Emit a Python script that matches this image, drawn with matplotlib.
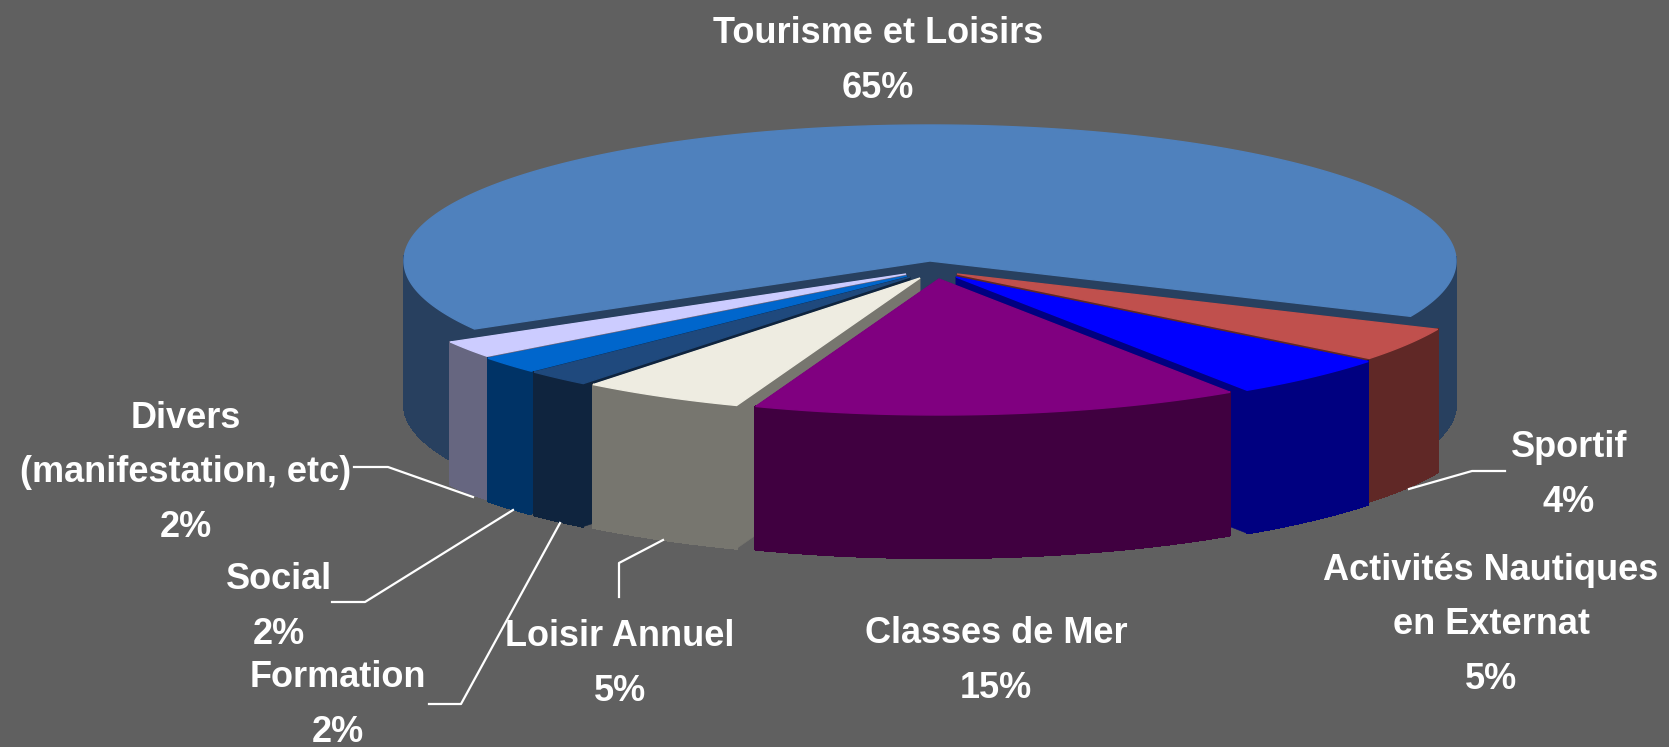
import numpy as np
import matplotlib
matplotlib.use("Agg")
import matplotlib.pyplot as plt
from matplotlib.patches import Polygon
from matplotlib.collections import PolyCollection

# Data, clockwise from the right edge of the big slice
labels = ["Tourisme et Loisirs", "Sportif", "Activités Nautiques\nen Externat", "Classes de Mer",
          "Loisir Annuel", "Formation", "Social", "Divers\n(manifestation, etc)"]
shares = [65, 4, 5, 15, 5, 2, 2, 2]
top_colors = ["#4f81bd", "#c0504d", "#0000ff", "#800080", "#eeece1", "#1f497d", "#0066cc", "#ccccff"]
side_colors = ["#28405f", "#602826", "#000080", "#400040", "#77766f", "#0f243e", "#003366", "#666680"]

# Layout of the pie, in pixels
bg = "#606060"
rx = 526
ry = 136
depth = 143
start_angle = -24
# where the apex of each slice ended up after exploding
apex_x = [930, 957, 956, 939, 920, 910, 907, 906]
apex_y = [261, 274, 277, 279, 278, 277, 276, 274]
draw_order = [0, 7, 6, 5, 1, 2, 4, 3]

# Label layout: centre x, centre y
label_x = [878, 1569, 1491, 996, 620, 338, 279, 186]
label_y = [61, 475, 625, 661, 664, 705, 607, 473]
leaders = [
    [(354, 467), (388, 467), (473, 497)],
    [(332, 602), (365, 602), (513, 510)],
    [(429, 704), (461, 704), (560, 523)],
    [(619, 597), (619, 563), (663, 540)],
    [(1505, 471), (1472, 471), (1409, 489)],
]


def draw_slice(ax, cx, cy, a_from, a_to, top, side, z):
    # a_from > a_to when going clockwise, angles in degrees
    t = np.radians(np.linspace(a_from, a_to, 240))
    xs = cx + rx * np.cos(t)
    ys = cy - ry * np.sin(t)
    # the two cut faces
    for x, y in ((xs[0], ys[0]), (xs[-1], ys[-1])):
        ax.add_patch(Polygon([(cx, cy), (x, y), (x, y + depth), (cx, cy + depth)],
                             fc=side, ec=side, lw=0.4, zorder=z))
    # the outer rim, one small quad per step, only the part facing the viewer
    quads = [[(xs[j], ys[j]), (xs[j + 1], ys[j + 1]), (xs[j + 1], ys[j + 1] + depth), (xs[j], ys[j] + depth)]
             for j in range(len(xs) - 1) if np.sin(t[j]) < 0.03]
    ax.add_collection(PolyCollection(quads, facecolors=side, edgecolors=side, linewidths=1,
                                     antialiaseds=False, zorder=z + 0.1))
    # the top
    face = np.concatenate([[(cx, cy)], np.c_[xs, ys]])
    ax.add_patch(Polygon(face, fc=top, ec=top, lw=1, zorder=z + 0.2))


fig = plt.figure(figsize=(16.69, 7.47), dpi=100, facecolor=bg)
ax = fig.add_axes([0, 0, 1, 1])
ax.set_xlim(0, 1669)
ax.set_ylim(747, 0)
ax.axis("off")

# slice angles come from the shares
edges = start_angle - np.cumsum([0] + shares[1:]) * 3.6
spans = [(edges[0] + shares[0] * 3.6, edges[0])]
for i in range(1, len(shares)):
    spans.append((edges[i - 1], edges[i]))

for n, i in enumerate(draw_order):
    draw_slice(ax, apex_x[i], apex_y[i], spans[i][0], spans[i][1], top_colors[i], side_colors[i], n + 1)

for pts in leaders:
    ax.plot([p[0] for p in pts], [p[1] for p in pts], color="white", lw=1.6, zorder=20)

for i in range(len(labels)):
    ax.text(label_x[i], label_y[i], "{0}\n{1}%".format(labels[i], shares[i]), color="white",
            family="Liberation Sans", fontweight="bold", fontsize=26, ha="center", va="center",
            linespacing=1.72, zorder=21)

plt.savefig("out.png", dpi=100, facecolor=bg)
